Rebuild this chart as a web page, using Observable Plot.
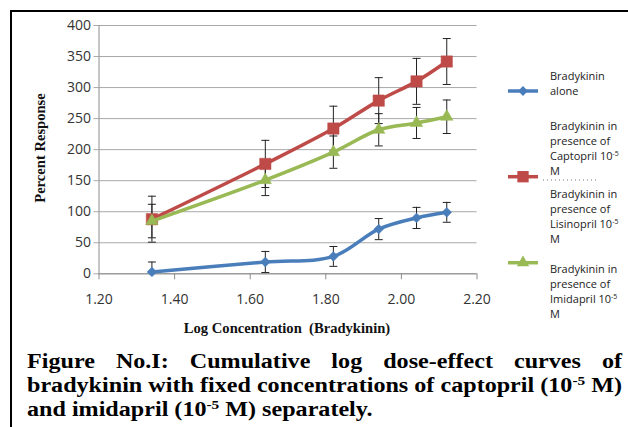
<!DOCTYPE html>
<html>
<head>
<meta charset="utf-8">
<script src="https://cdn.jsdelivr.net/npm/d3@7"></script>
<script src="https://cdn.jsdelivr.net/npm/@observablehq/plot@0.6"></script>
<style>
  body { margin: 0; background: #fff; }
  #wrap { position: relative; width: 628px; height: 427px; overflow: hidden; background: #fff; }
  #frame { position: absolute; left: 10px; top: 10px; width: 800px; height: 600px; border-left: 2.5px solid #000; border-top: 2.5px solid #000; box-sizing: border-box; }
  #chart { position: absolute; left: 0; top: 0; }
  .leg { position: absolute; font-family: "Open Sans", sans-serif; font-size: 11px; line-height: 15px; color: #222; white-space: nowrap; }
  .leg sup { font-size: 7px; vertical-align: 4px; line-height: 0; }
  .axt { position: absolute; font-family: "Liberation Serif", serif; font-weight: bold; font-size: 14.6px; color: #111; white-space: nowrap; }
  #caption { position: absolute; left: 27px; top: 349px; width: 506px; font-family: "Liberation Serif", serif; font-weight: bold; font-size: 20.5px; line-height: 24px; color: #000; transform: scaleX(1.176); transform-origin: 0 0; }
  #caption .j { text-align: justify; text-align-last: justify; white-space: nowrap; }
  #caption .l { white-space: nowrap; }
  #caption sup { font-size: 13px; vertical-align: 7px; line-height: 0; }
</style>
</head>
<body>
<div id="wrap">
  <div id="frame"></div>
  <div id="chart"></div>
</div>
<script>
// ---- data ----
const logConc = [1.34, 1.64, 1.82, 1.94, 2.04, 2.12];
const aloneResp = [3, 19, 28, 72, 90, 99];
const aloneErr = [16, 17, 16, 17, 17, 16];
const captoprilResp = [88, 177, 234, 279, 310, 342];
const captoprilErr = [37, 38, 36, 37, 37, 37];
const imidaprilResp = [85, 151, 196, 232, 243, 253];
const imidaprilErr = [27, 25, 26, 26, 25, 27];
const xTicks = [1.2, 1.4, 1.6, 1.8, 2.0, 2.2];
const yTicks = [0, 50, 100, 150, 200, 250, 300, 350, 400];

const series = [
  {name: "alone", values: aloneResp, err: aloneErr, color: "#4a7ebb", symbol: "diamond2", r: 4.4},
  {name: "captopril", values: captoprilResp, err: captoprilErr, color: "#be4b48", symbol: "square", r: 6.4},
  {name: "imidapril", values: imidaprilResp, err: imidaprilErr, color: "#98b954", symbol: "triangle", r: 4.6}
];
const rows = series.flatMap(s => logConc.map((x, i) => ({
  series: s.name, x, y: s.values[i], lo: s.values[i] - s.err[i], hi: s.values[i] + s.err[i]
})));

const cap = {draw(ctx) { ctx.moveTo(-4, 0); ctx.lineTo(4, 0); }};
const H = 340;

const marks = [
  Plot.gridY(yTicks, {stroke: "#a8a8a8", strokeOpacity: 1, strokeWidth: 1}),
  Plot.ruleX([1.2], {stroke: "#8c8c8c"}),
  Plot.ruleY([0], {stroke: "#8c8c8c"}),
  Plot.axisY({ticks: yTicks, tickSize: 5, tickPadding: 3, stroke: "#a8a8a8", fontSize: 14, fill: "#333", label: null}),
  Plot.axisX({ticks: xTicks, tickSize: 6, tickPadding: 14, stroke: "#8c8c8c", fontSize: 14, fill: "#333", tickFormat: d3.format(".2f"), label: null}),
  Plot.ruleX(rows, {x: "x", y1: "lo", y2: "hi", stroke: "#222", strokeWidth: 1, clip: true}),
  Plot.dot(rows, {x: "x", y: "hi", symbol: cap, stroke: "#222", fill: "none", strokeWidth: 1, clip: true}),
  Plot.dot(rows, {x: "x", y: "lo", symbol: cap, stroke: "#222", fill: "none", strokeWidth: 1, clip: true})
];
for (const s of series) {
  const d = rows.filter(r => r.series === s.name);
  marks.push(Plot.line(d, {x: "x", y: "y", stroke: s.color, strokeWidth: 3.5, curve: "catmull-rom"}));
  marks.push(Plot.dot(d, {x: "x", y: "y", symbol: s.symbol, r: s.r, fill: s.color, stroke: s.color, strokeWidth: 0.5}));
}

const chart = Plot.plot({
  width: 628,
  height: H,
  marginLeft: 98.5,
  marginRight: 151.5,
  marginTop: 25,
  marginBottom: H - 273.3,
  style: {fontFamily: "'Open Sans', sans-serif", background: "transparent", overflow: "visible"},
  x: {domain: [1.2, 2.2], axis: null},
  y: {domain: [0, 400], axis: null},
  marks
});
document.getElementById("chart").appendChild(chart);

// ---- legend & titles (HTML) ----
const wrap = document.getElementById("wrap");
function addDiv(cls, html, style) {
  const el = document.createElement("div");
  el.className = cls; el.innerHTML = html;
  Object.assign(el.style, style);
  wrap.appendChild(el);
  return el;
}
const legendMarks = [
  {s: series[0], y: 91},
  {s: series[1], y: 176.7},
  {s: series[2], y: 262.7}
];
const legSvg = d3.create("svg").attr("width", 628).attr("height", 427)
  .style("position", "absolute").style("left", 0).style("top", 0);
for (const m of legendMarks) {
  legSvg.append("line").attr("x1", 508).attr("x2", 538).attr("y1", m.y).attr("y2", m.y)
    .attr("stroke", m.s.color).attr("stroke-width", 3.5);
  const sym = {diamond2: d3.symbolDiamond2, square: d3.symbolSquare, triangle: d3.symbolTriangle}[m.s.symbol];
  legSvg.append("path").attr("d", d3.symbol(sym, Math.PI * m.s.r * m.s.r)())
    .attr("transform", `translate(523,${m.y})`).attr("fill", m.s.color);
}
legSvg.append("line").attr("x1", 543).attr("x2", 598).attr("y1", 180).attr("y2", 180)
  .attr("stroke", "#777").attr("stroke-width", 1).attr("stroke-dasharray", "1,3");
wrap.appendChild(legSvg.node());

addDiv("leg", "Bradykinin<br>alone", {left: "550px", top: "68px"});
addDiv("leg", "Bradykinin in<br>presence of<br>Captopril 10<sup>-5</sup><br>M", {left: "550px", top: "118px"});
addDiv("leg", "Bradykinin in<br>presence of<br>Lisinopril 10<sup>-5</sup><br>M", {left: "550px", top: "186px"});
addDiv("leg", "Bradykinin in<br>presence of<br>Imidapril 10<sup>-5</sup><br>M", {left: "550px", top: "261px"});

addDiv("axt", "Percent Response", {left: "40px", top: "148px", transform: "translate(-50%,-50%) rotate(-90deg)"});
addDiv("axt", "Log Concentration&nbsp;&nbsp;(Bradykinin)", {left: "287px", top: "328px", transform: "translate(-50%,-50%)"});

const cap1 = document.createElement("div");
cap1.id = "caption";
cap1.innerHTML =
  '<div class="j">Figure No.I: Cumulative log dose-effect curves of</div>' +
  '<div class="j">bradykinin with fixed concentrations of captopril (10<sup>-5</sup> M)</div>' +
  '<div class="l">and imidapril (10<sup>-5</sup> M) separately.</div>';
wrap.appendChild(cap1);
</script>
</body>
</html>
